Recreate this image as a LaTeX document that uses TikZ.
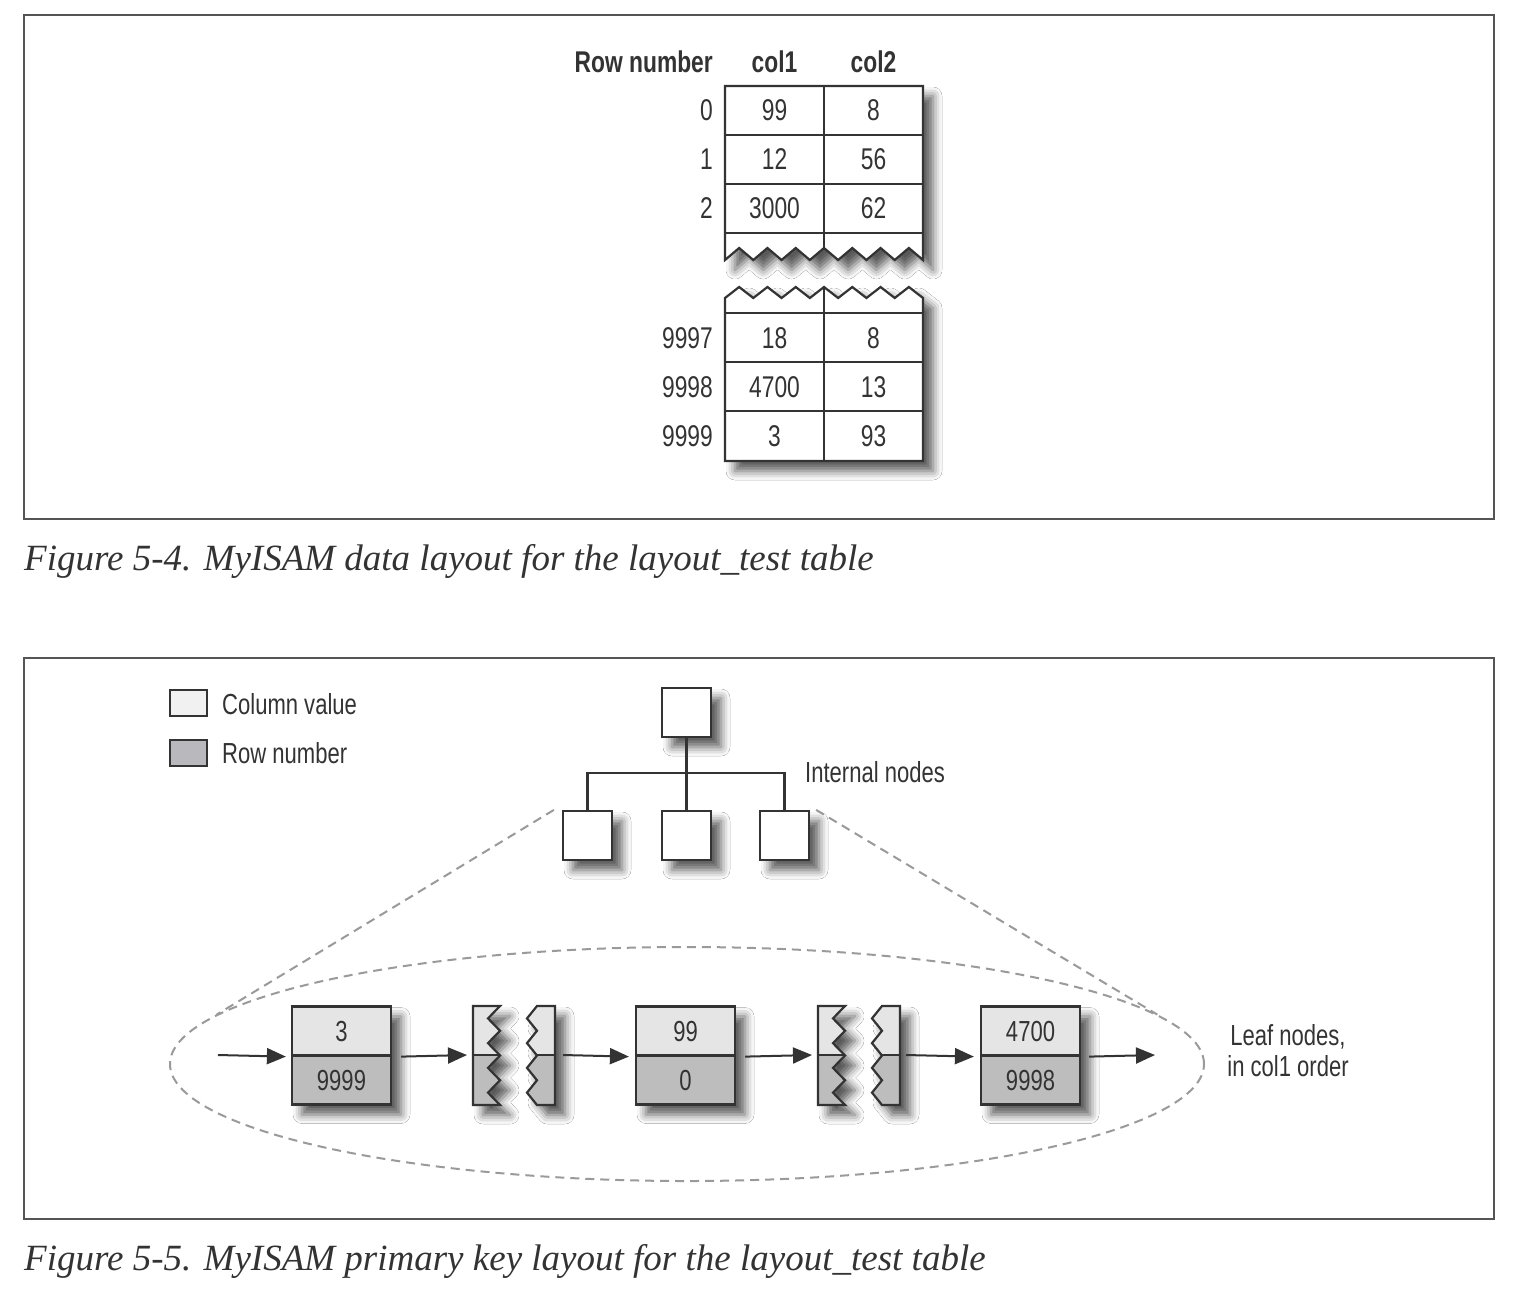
\documentclass[tikz,border=0pt]{standalone}
\usepackage{fontspec}
\setmainfont{Liberation Serif}
\newfontfamily\narrowsf[FakeStretch=0.76]{Liberation Sans}
\usetikzlibrary{arrows.meta,shapes.geometric,shadows.blur}

\definecolor{ink}{HTML}{333333}
\definecolor{framegray}{HTML}{555555}
\definecolor{dashgray}{HTML}{9A9A9A}
\definecolor{keylight}{HTML}{E5E5E5}
\definecolor{keydark}{HTML}{BDBDBD}
\definecolor{leglight}{HTML}{F1F1F1}
\definecolor{legdark}{HTML}{B9B9BD}

\tikzstyle{frame}   = [draw=framegray, line width=1.5pt]
\tikzstyle{caption} = [anchor=base west, inner sep=0pt, text=ink, font=\fontsize{37}{41}\selectfont\itshape]
\tikzstyle{shade}   = [blur shadow={shadow xshift=10pt, shadow yshift=-10pt, shadow blur radius=9pt, shadow opacity=65}]
\tikzstyle{tbl}     = [draw=ink, line width=2.2pt]
\tikzstyle{cell}    = [inner sep=0pt, text=ink, font=\narrowsf\fontsize{30}{32}\selectfont]
\tikzstyle{head}    = [inner sep=0pt, text=ink, font=\narrowsf\bfseries\fontsize{30}{32}\selectfont]
\tikzstyle{lbl}     = [inner sep=0pt, text=ink, font=\narrowsf\fontsize{29}{31}\selectfont]
\tikzstyle{legend}  = [draw=ink, line width=2pt, minimum width=37pt, minimum height=26pt, inner sep=0pt]
\tikzstyle{inode}   = [draw=ink, line width=2.2pt, fill=white, minimum width=49pt, minimum height=49pt, inner sep=0pt, shade]
\tikzstyle{keyval}  = [lbl, draw=ink, line width=2.2pt, fill=keylight, minimum width=99pt, minimum height=49pt]
\tikzstyle{rowval}  = [keyval, fill=keydark]
\tikzstyle{link}    = [-{Triangle[length=19pt,width=16pt]}, line width=2pt, draw=ink]
\tikzstyle{guide}   = [draw=dashgray, line width=2pt, dash pattern=on 9pt off 6pt]

\tikzset{
  piece left/.style={insert path={(473,1006) -- (500,1006)
      \foreach \i in {1,...,4} { -- ++(-12,12.375) -- ++(12,12.375) } -- (473,1105) -- cycle}},
  piece right/.style={insert path={(537,1006)
      \foreach \i in {1,...,4} { -- ++(-10,12.375) -- ++(10,12.375) } -- (555,1105) -- (555,1006) -- cycle}}
}

\begin{document}
\begin{tikzpicture}[x=1pt,y=-1pt]
  \useasboundingbox (0,0) rectangle (1530,1310);
  \fill[white] (0,0) rectangle (1530,1310);

  % Figure 5-4
  \draw[frame] (24,15) rectangle (1494,519);
  \node at (24,570) (cap4) [caption] {Figure 5-4. MyISAM data layout for the layout\_test table};

  \filldraw[tbl, fill=white, shade] (725,86) -- (923,86) -- (923,260)
      \foreach \i in {1,...,7} { -- ++(-14.143,-12) -- ++(-14.143,12) } -- cycle;
  \filldraw[tbl, fill=white, shade] (725,298)
      \foreach \i in {1,...,7} { -- ++(14.143,-11) -- ++(14.143,11) } -- (923,461) -- (725,461) -- cycle;
  \foreach \y in {135,184,233,313,362,411}
    \draw[tbl] (725,\y) -- (923,\y);
  \draw[tbl] (824,86) -- (824,248);
  \draw[tbl] (824,287) -- (824,461);

  \node at (713,62) (hrow) [head, anchor=east] {Row number};
  \node at (774.5,62) (hcol1) [head] {col1};
  \node at (873.5,62) (hcol2) [head] {col2};
  \foreach \r/\y/\a/\b in {0/110/99/8, 1/159/12/56, 2/208/3000/62,
                           9997/338/18/8, 9998/387/4700/13, 9999/436/3/93} {
    \node at (713,\y) (row\r) [cell, anchor=east] {\r};
    \node at (774.5,\y) (cola\r) [cell] {\a};
    \node at (873.5,\y) (colb\r) [cell] {\b};
  }

  % Figure 5-5
  \draw[frame] (24,658) rectangle (1494,1219);
  \node at (24,1270) (cap5) [caption] {Figure 5-5. MyISAM primary key layout for the layout\_test table};

  \node at (188.5,703) (lgkey) [legend, fill=leglight] {};
  \node at (188.5,752.5) (lgrow) [legend, fill=legdark] {};
  \node at (222,704) (lgkeytxt) [lbl, anchor=west] {Column value};
  \node at (222,753) (lgrowtxt) [lbl, anchor=west] {Row number};

  \node at (686.5,712.5) (root) [inode] {};
  \node at (587.5,835.5) (inner1) [inode] {};
  \node at (686.5,835.5) (inner2) [inode] {};
  \node at (784.5,835.5) (inner3) [inode] {};
  \coordinate (bus) at (686.5,773);
  \draw[tbl] (root) -- (inner2);
  \draw[tbl] (inner1.north) |- (bus) -| (inner3.north);
  \node at (805,772) (innerlbl) [lbl, anchor=west] {Internal nodes};

  \node at (687,1064) (leafset) [ellipse, guide, minimum width=1034pt, minimum height=234pt] {};
  \draw[guide] ([xshift=-8pt]inner1.north west) -- (leafset.174);
  \draw[guide] ([xshift=6pt]inner3.north east) -- (leafset.6);

  \foreach \n/\x/\k/\v in {1/341.5/3/9999, 2/685.5/99/0, 3/1030.5/4700/9998} {
    \fill[white, shade] ({\x-49.5},1006.5) rectangle ({\x+49.5},1104.5);
    \node at (\x,1031) (key\n) [keyval] {\k};
    \node at (\x,1080) (rec\n) [rowval] {\v};
  }

  \foreach \s in {0,345} {
    \begin{scope}[xshift=\s pt]
      \foreach \p in {piece left, piece right} {
        \path[fill=keydark, shade, \p];
        \begin{scope}
          \clip[\p];
          \fill[keylight] (400,1000) rectangle (600,1055);
          \draw[tbl] (400,1055) -- (600,1055);
        \end{scope}
        \draw[tbl, line join=miter, \p];
      }
    \end{scope}
  }
  \coordinate (brk1in) at (473,1055);
  \coordinate (brk1out) at (555,1055);
  \coordinate (brk2in) at (818,1055);
  \coordinate (brk2out) at (900,1055);
  \coordinate (feed) at (218,1055);
  \coordinate (tail) at (1155,1055);

  \draw[link] (feed) -- ([xshift=-5pt]key1.south west);
  \draw[link] ([xshift=9pt]key1.south east) -- ([xshift=-6pt]brk1in);
  \draw[link] ([xshift=8pt]brk1out) -- ([xshift=-6pt]key2.south west);
  \draw[link] ([xshift=9pt]key2.south east) -- ([xshift=-6pt]brk2in);
  \draw[link] ([xshift=6pt]brk2out) -- ([xshift=-6pt]key3.south west);
  \draw[link] ([xshift=8pt]key3.south east) -- (tail);

  \node at (1288,1051) (leaflbl) [lbl, align=center] {Leaf nodes,\\in col1 order};
%  \node at (687,1200) {};
\end{tikzpicture}
\end{document}
